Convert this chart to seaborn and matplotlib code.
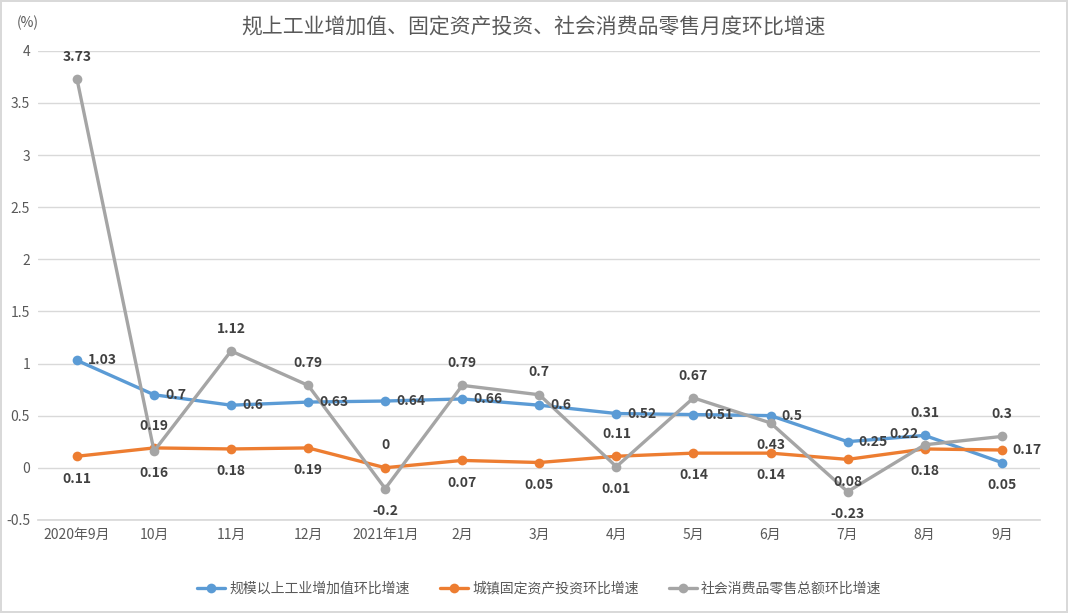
import pandas as pd
import seaborn as sns
import matplotlib.pyplot as plt

# data
months = ['2020年9月', '10月', '11月', '12月', '2021年1月', '2月', '3月',
          '4月', '5月', '6月', '7月', '8月', '9月']
industry = [1.03, 0.7, 0.6, 0.63, 0.64, 0.66, 0.6, 0.52, 0.51, 0.5, 0.25, 0.31, 0.05]
investment = [0.11, 0.19, 0.18, 0.19, 0, 0.07, 0.05, 0.11, 0.14, 0.14, 0.08, 0.18, 0.17]
retail = [3.73, 0.16, 1.12, 0.79, -0.2, 0.79, 0.7, 0.01, 0.67, 0.43, -0.23, 0.22, 0.3]
series_names = ['规模以上工业增加值环比增速', '城镇固定资产投资环比增速', '社会消费品零售总额环比增速']

# where each data label sits relative to its point
place_industry = ['r'] * 11 + ['t', 'b']
place_investment = ['b', 't', 'b', 'b', 't', 'b', 'b', 't', 'b', 'b', 'b', 'b', 'r']
place_retail = ['t', 'b', 't', 't', 'b', 't', 't', 'b', 't', 'b', 'b', 'tl', 't']

colors = ['#5B9BD5', '#ED7D31', '#A5A5A5']

rows = []
for name, vals in zip(series_names, [industry, investment, retail]):
    for i, v in enumerate(vals):
        rows.append({'idx': i, 'value': v, 'series': name})
df = pd.DataFrame(rows)

sns.set_theme(style="white")
plt.rcParams['font.family'] = ['Noto Sans CJK SC', 'DejaVu Sans']

fig = plt.figure(figsize=(10.68, 6.13), dpi=100)
fig.patch.set_edgecolor('#D9D9D9')
fig.patch.set_linewidth(1.5)
ax = fig.add_axes([0.036, 0.152, 0.938, 0.765])

sns.lineplot(data=df, x='idx', y='value', hue='series', hue_order=series_names,
             palette=colors, marker='o', markersize=7, markeredgewidth=0,
             linewidth=2.4, ax=ax)

ax.set_xlim(-0.5, 12.5)
ax.set_ylim(-0.5, 4)
ax.set_yticks([-0.5, 0, 0.5, 1, 1.5, 2, 2.5, 3, 3.5, 4])
ax.set_yticklabels(['-0.5', '0', '0.5', '1', '1.5', '2', '2.5', '3', '3.5', '4'])
ax.set_xticks(range(len(months)))
ax.set_xticklabels(months)
ax.tick_params(axis='both', colors='#595959', labelsize=10, length=0, pad=6)
ax.yaxis.grid(True, color='#D9D9D9', linewidth=1)
ax.set_xlabel('')
ax.set_ylabel('')
for s in ['top', 'right', 'left']:
    ax.spines[s].set_visible(False)
ax.spines['bottom'].set_color('#D9D9D9')

offsets = {'r': (8, 0, 'left', 'center'), 'b': (0, -11, 'center', 'top'),
           't': (0, 11, 'center', 'bottom'), 'tl': (-4, 3, 'right', 'bottom')}
for vals, places in zip([industry, investment, retail],
                        [place_industry, place_investment, place_retail]):
    for i, (v, p) in enumerate(zip(vals, places)):
        dx, dy, ha, va = offsets[p]
        ax.annotate(f'{v:g}', (i, v), xytext=(dx, dy), textcoords='offset points',
                    ha=ha, va=va, fontsize=10, fontweight='bold', color='#404040')

fig.text(0.5, 0.955, '规上工业增加值、固定资产投资、社会消费品零售月度环比增速',
         ha='center', va='center', fontsize=15, color='#595959')
fig.text(0.016, 0.963, '(%)', ha='left', va='center', fontsize=10, color='#595959')

ax.legend(loc='upper center', bbox_to_anchor=(0.5, -0.105), ncol=3, frameon=False,
          fontsize=10, labelcolor='#595959', handlelength=2.0, handletextpad=0.3,
          columnspacing=2.2)

fig.savefig('out.png', dpi=100, edgecolor=fig.get_edgecolor())
